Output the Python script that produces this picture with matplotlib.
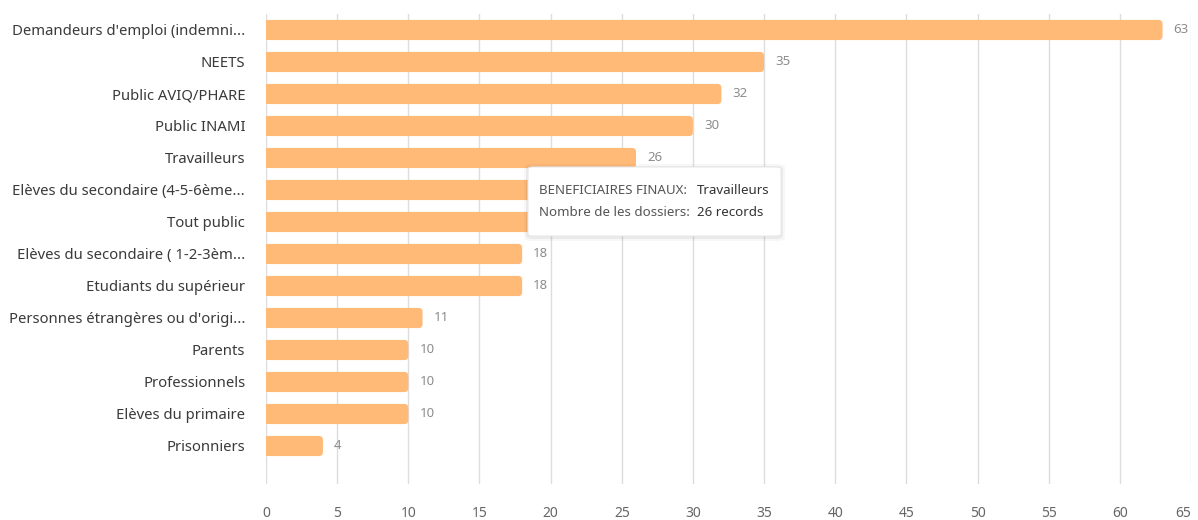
import matplotlib.pyplot as plt
from matplotlib.patches import FancyBboxPatch

plt.rcParams['font.family'] = ['Noto Sans', 'DejaVu Sans']

categories = ["Demandeurs d'emploi (indemni...", "NEETS", "Public AVIQ/PHARE", "Public INAMI",
              "Travailleurs", "Elèves du secondaire (4-5-6ème...", "Tout public",
              "Elèves du secondaire ( 1-2-3èm...", "Etudiants du supérieur",
              "Personnes étrangères ou d'origi...", "Parents", "Professionnels",
              "Elèves du primaire", "Prisonniers"]
values = [63, 35, 32, 30, 26, 22, 20, 18, 18, 11, 10, 10, 10, 4]
# value labels hidden behind the tooltip in the original
hidden_labels = ["Elèves du secondaire (4-5-6ème...", "Tout public"]
xticks = list(range(0, 66, 5))

bar_color = '#FFBA78'
W, H = 1198, 520
X0, X1 = 266, 1191

fig = plt.figure(figsize=(W / 100, H / 100), dpi=100)
ax = fig.add_axes([X0 / W, 1 - 484 / H, (X1 - X0) / W, (484 - 14) / H])

ypos = list(range(len(categories)))
bars = ax.barh(ypos, values, height=0.63, color=bar_color, edgecolor='none', zorder=2)

# round the right end of every bar
px_x = (X1 - X0) / 65.0
px_y = 32.0
r = 4 / px_x
for b in bars:
    x0, y0, w, h = b.get_x(), b.get_y(), b.get_width(), b.get_height()
    ax.add_patch(FancyBboxPatch((x0, y0), w, h, boxstyle=f'round,pad=0,rounding_size={r}',
                                mutation_aspect=px_x / px_y, fc=bar_color, ec='none', zorder=2))
    b.set_width(w / 2)

for y, v, c in zip(ypos, values, categories):
    if c in hidden_labels:
        continue
    ax.annotate(str(v), (v, y), xytext=(8, 0), textcoords='offset points',
                va='center', ha='left', fontsize=9.5, color='#8c8c8c')

ax.set_xlim(0, 65)
ax.set_ylim(13 + 38 / 32, -0.5)
ax.set_xticks(xticks)
ax.set_yticks(ypos)
ax.set_yticklabels(categories, fontsize=10.7, color='#3a3a3a')
ax.tick_params(axis='y', length=0, pad=15)
ax.tick_params(axis='x', length=0, pad=16, labelsize=10, labelcolor='#666666')
ax.get_xticklabels()[-1].set_horizontalalignment('right')
ax.grid(axis='x', color='#dddddd', linewidth=1, zorder=0)
for s in ax.spines.values():
    s.set_visible(False)

# tooltip
tx0, ty0, tx1, ty1 = 528, 167, 781, 236
for k, a in [(4, 0.03), (2, 0.05)]:
    fig.add_artist(FancyBboxPatch(((tx0 - k) / W, 1 - (ty1 + k + 1) / H), (tx1 - tx0 + 2 * k) / W,
                                  (ty1 - ty0 + 2 * k) / H, boxstyle='round,pad=0,rounding_size=0.006',
                                  transform=fig.transFigure, fc='#000000', alpha=a, ec='none', zorder=5))
tip = FancyBboxPatch((tx0 / W, 1 - ty1 / H), (tx1 - tx0) / W, (ty1 - ty0) / H,
                     boxstyle='round,pad=0,rounding_size=0.004', transform=fig.transFigure,
                     fc='white', ec='#e8e8e8', lw=0.8, zorder=6)
fig.add_artist(tip)
fig.text(539 / W, 1 - 190 / H, 'BENEFICIAIRES FINAUX:', fontsize=9.6, color='#555555',
         va='center', ha='left', zorder=7)
fig.text(697 / W, 1 - 190 / H, 'Travailleurs', fontsize=9.6, color='#333333',
         fontweight='bold', va='center', ha='left', zorder=7)
fig.text(539 / W, 1 - 213 / H, 'Nombre de les dossiers:', fontsize=9.6, color='#555555',
         va='center', ha='left', zorder=7)
fig.text(697 / W, 1 - 213 / H, '26 records', fontsize=9.6, color='#333333',
         fontweight='bold', va='center', ha='left', zorder=7)

fig.savefig('out.png', dpi=100)
